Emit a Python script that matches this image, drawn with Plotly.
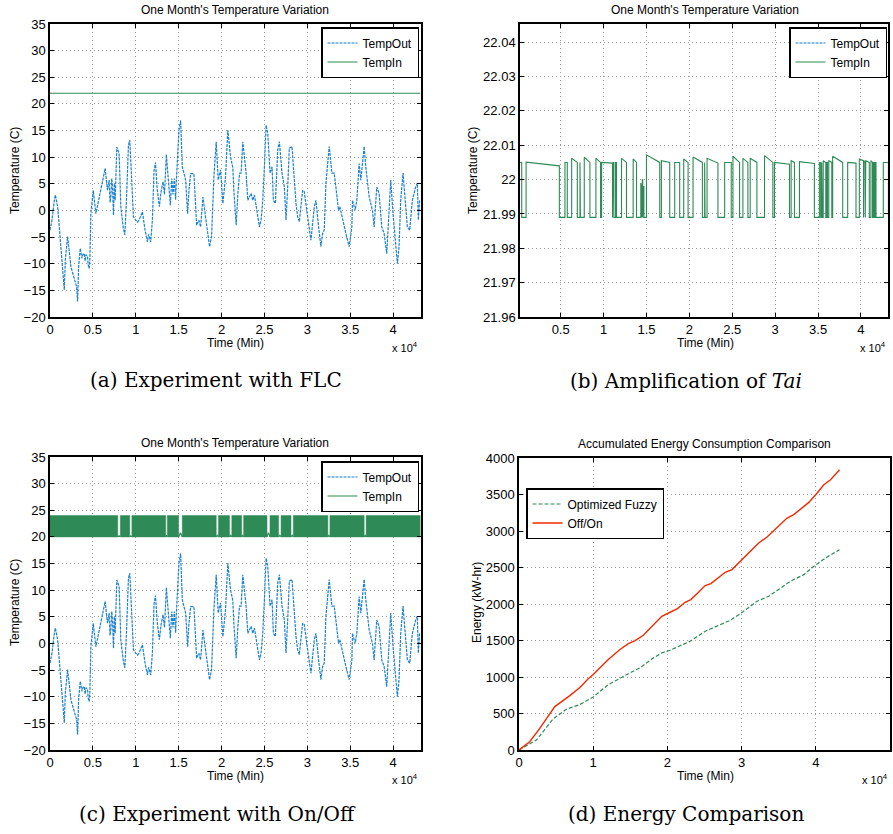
import plotly.graph_objects as go

# ---------------- data ----------------
# outdoor temperature (minutes, deg C)
out_t = [0, 233, 504, 620, 891, 1163, 1395, 1667, 1783, 2054, 2442, 2830, 3101, 3217, 3333, 3527,
         3721, 3850, 3992, 4100, 4200, 4380, 4450, 4574, 4650, 4767, 5039, 5349, 5659, 5930, 6050,
         6202, 6434, 6706, 6899, 7000, 7093, 7200, 7287, 7403, 7500, 7597, 7791, 8062, 8256, 8527,
         8721, 8915, 9147, 9302, 9496, 9729, 10000, 10200, 10388, 10775, 11085, 11357, 11500, 11744,
         11938, 12132, 12300, 12500, 12750, 12950, 13178, 13350, 13566, 13800, 14031, 14200, 14341,
         14500, 14650, 14729, 15039, 15233, 15426, 15814, 16047, 16202, 16395, 16783, 17093, 17364,
         17558, 17829, 18023, 18333, 18605, 18837, 19109, 19380, 19612, 19884, 20155, 20465, 20736,
         21046, 21318, 21434, 21705, 21900, 22100, 22287, 22481, 22868, 23062, 23450, 23643, 23837,
         24225, 24419, 24612, 24806, 25000, 25194, 25388, 25659, 25892, 26047, 26279, 26550, 26744,
         27054, 27326, 27519, 27713, 27907, 28217, 28489, 28682, 28876, 29070, 29457, 29651, 30039,
         30426, 30814, 31008, 31318, 31589, 31783, 31977, 32171, 32558, 32868, 33140, 33333, 33643,
         33798, 34109, 34496, 34884, 35194, 35271, 35581, 35775, 36047, 36240, 36628, 36822, 37209,
         37597, 37791, 38101, 38372, 38682, 38953, 39264, 39535, 39729, 40000, 40233, 40504, 40698,
         40891, 41163, 41395, 41667, 41938, 42248, 42636, 42829, 42946, 43101]
out_v = [-3.7, -1.8, 1.9, 2.9, 0.7, -4.9, -8.1, -14.9, -9.3, -4.9, -10.6, -13.0, -14.3, -17.1, -10.6, -7.1,
         -9.0, -8.2, -8.1, -9.5, -8.3, -8.7, -10.2, -10.9, -9.0, -0.6, 3.8, -0.6, 1.9, 3.8, 5.0,
         6.3, 7.9, 3.8, 5.7, 1.5, 2.6, 6.0, 4.4, -0.9, 5.0, 1.9, 11.9, 10.7, 0.7, -3.1,
         -4.6, 1.9, 12.3, 13.2, 5.7, -1.2, -1.8, -2.2, -1.8, -0.25, -3.7, -5.9, -4.5, -5.9,
         -1.8, 7.5, 9.0, 4.0, 0.7, 3.5, 5.4, 3.0, 10.5, 6.0, 1.0, 6.0, 3.0,
         6.0, 2.0, 5.5, 15.1, 16.9, 8.2, 5.7, -0.6, 3.8, 6.9, 6.9, -2.75, -1.8,
         -3.1, 2.5, 0.1, -3.7, -6.8, -4.9, 6.3, 12.9, 5.7, 7.6, 1.3, 6.3, 15.1,
         10.1, 8.0, 3.8, -2.75, 3.0, 7.0, 7.0, 12.9, 7.0, 1.9, 3.2, 1.9, 2.9,
         -1.8, -3.1, -1.8, 1.9, 8.2, 16.0, 14.5, 7.0, 8.2, 1.9, 1.3, 11.3, 12.9,
         7.0, 4.4, -1.8, 4.4, 11.7, 12.0, 5.7, 1.3, -1.2, -2.1, 3.8, 3.5, -1.2,
         -5.6, 0.7, 1.9, -3.1, -6.8, -4.3, -3.7, 5.1, 12.0, 7.0, 7.0, 4.4, 0.0,
         0.7, -1.8, -4.3, -6.8, -3.1, 1.9, 0.0, 1.9, 8.8, 5.7, 12.0, 8.2, 2.6,
         0.0, -3.1, 4.4, 3.2, -3.1, -4.3, -8.1, 0.7, 5.7, -0.6, -5.6, -10.0, -6.8,
         1.9, 7.0, 1.9, -3.1, -3.7, 1.9, 4.4, 5.1, -1.8, 1.9]

# indoor temperature with the FLC (a)
flc_in_t = [0, 43200]
flc_in_v = [22.0, 22.0]

# indoor temperature, amplified (b): high phases (start, end, level after rise, level before fall)
tai_hi_start = [0, 970, 5500, 6280, 7250, 7750, 9110, 9770, 11120, 11400, 12090, 13450, 14340, 14420,
                14520, 14600, 15000, 16740, 18290, 19340, 20430, 21780, 22060, 24110, 25080, 26240,
                27090, 28760, 29920, 31860, 32830, 35150, 35420, 35600, 36000, 36250, 36700, 38450,
                39810, 40350, 40560, 41160, 41450, 41650, 42600]
tai_hi_end = [460, 4845, 5770, 6940, 7300, 8410, 9650, 11040, 11200, 11510, 12670, 13840, 14380, 14460,
              14560, 14700, 16550, 17710, 18870, 19850, 21520, 21830, 23330, 24880, 25850, 26820,
              27870, 29730, 31670, 32250, 34570, 35300, 35500, 35900, 36100, 36600, 37870, 39420,
              40300, 40500, 40970, 41350, 41550, 41750, 43200]
tai_hi_peak = [22.005, 22.0051, 22.005, 22.0062, 22.005, 22.0065, 22.0062, 22.005, 22.005, 22.005,
               22.0062, 22.006, 21.999, 21.998, 22.0, 21.998, 22.0072, 22.0055, 22.005, 22.006,
               22.0066, 22.005, 22.0062, 22.005, 22.0068, 22.0062, 22.0062, 22.007, 22.005, 22.0055,
               22.0052, 22.005, 22.005, 22.0055, 22.005, 22.0055, 22.0068, 22.005, 22.006, 22.0055,
               22.0055, 22.0055, 22.005, 22.005, 22.005]
tai_hi_last = [22.005, 22.004, 22.005, 22.005, 22.005, 22.005, 22.005, 22.0048, 22.005, 22.005,
               22.005, 22.005, 21.999, 21.998, 22.0, 21.998, 22.005, 22.005, 22.005, 22.005,
               22.005, 22.005, 22.0048, 22.005, 22.005, 22.005, 22.005, 22.005, 22.0045, 22.005,
               22.0047, 22.005, 22.005, 22.005, 22.005, 22.005, 22.005, 22.0048, 22.0055, 22.005,
               22.005, 22.005, 22.005, 22.005, 22.005]
tai_low = 21.989

# indoor temperature with On/Off (c): band limits and the pauses in switching
onoff_low, onoff_high = 20, 24
onoff_gap_start = [7900, 9300, 13490, 15000, 19380, 20930, 22350, 25300, 26650, 28100, 32400, 36630]
onoff_gap_end = [8200, 9550, 13680, 15420, 19650, 21200, 22580, 25650, 26940, 28370, 32640, 36860]
onoff_gap_level = [20.2, 20.2, 20.3, 20.8, 20.3, 20.3, 20.3, 20.8, 20.3, 20.3, 20.3, 20.3]
month_end = 43200

# accumulated energy (d)
fuzzy_t = [0, 2347, 4595, 6401, 8203, 10000, 12032, 13608, 14960, 16311, 18113, 19239, 20365, 21356,
           23068, 25095, 26671, 28473, 30275, 32077, 33653, 35230, 36581, 38383, 39734, 41311, 43203]
fuzzy_e = [0, 136, 425, 560, 623, 726, 895, 988, 1057, 1125, 1262, 1330, 1366, 1412,
           1490, 1627, 1695, 1777, 1900, 2037, 2105, 2219, 2311, 2402, 2516, 2630, 2744]
onoff_t = [0, 1446, 2797, 4824, 6851, 8203, 9329, 10005, 12032, 13608, 14734, 15635, 16761, 18113,
           19239, 20365, 21356, 22392, 23158, 24194, 25095, 25860, 26896, 27797, 28698, 30050, 31176,
           32302, 33428, 34329, 35230, 36131, 37032, 38158, 39059, 40185, 41086, 41987, 43203]
onoff_e = [0, 113, 296, 595, 745, 855, 975, 1034, 1240, 1376, 1458, 1499, 1572, 1709,
           1832, 1887, 1937, 2024, 2061, 2161, 2252, 2279, 2357, 2435, 2471, 2608, 2736,
           2836, 2918, 3009, 3096, 3178, 3224, 3315, 3392, 3520, 3634, 3702, 3839]

# ticks
time_tick_vals = [0, 5000, 10000, 15000, 20000, 25000, 30000, 35000, 40000]
time_tick_text = ["0", "0.5", "1", "1.5", "2", "2.5", "3", "3.5", "4"]
temp_tick_vals = [-20, -15, -10, -5, 0, 5, 10, 15, 20, 25, 30, 35]
tai_tick_vals = [21.96, 21.97, 21.98, 21.99, 22.0, 22.01, 22.02, 22.03, 22.04]
tai_tick_text = ["21.96", "21.97", "21.98", "21.99", "22", "22.01", "22.02", "22.03", "22.04"]
energy_time_vals = [0, 10000, 20000, 30000, 40000, 50000]
energy_time_text = ["0", "1", "2", "3", "4", "5"]
energy_tick_vals = [0, 500, 1000, 1500, 2000, 2500, 3000, 3500, 4000]

# ---------------- figure ----------------
W, H = 893, 834
def fx(p):
    return p / W
def fy(p):
    return 1 - p / H

GREEN = "#2e8b57"
BLUE = "#1a80d2"
RED = "#f02a00"
FONT = "Liberation Sans"
SERIF = "DejaVu Serif"

fig = go.Figure()
out_line = dict(color=BLUE, width=1.2, dash="3px,1px")

# (a)
fig.add_trace(go.Scatter(x=out_t, y=out_v, mode="lines", name="TempOut", line=out_line,
                         xaxis="x", yaxis="y", legend="legend"))
fig.add_trace(go.Scatter(x=flc_in_t, y=flc_in_v, mode="lines", name="TempIn",
                         line=dict(color=GREEN, width=1.2), xaxis="x", yaxis="y", legend="legend"))

# (b)
tai_x, tai_y = [], []
for s, e, p, q in zip(tai_hi_start, tai_hi_end, tai_hi_peak, tai_hi_last):
    tai_x += [s, s, e, e]
    tai_y += [tai_low, p, q, tai_low]
fig.add_trace(go.Scatter(x=out_t, y=out_v, mode="lines", name="TempOut", line=out_line,
                         xaxis="x2", yaxis="y2", legend="legend2"))
fig.add_trace(go.Scatter(x=tai_x, y=tai_y, mode="lines", name="TempIn",
                         line=dict(color=GREEN, width=1.1), xaxis="x2", yaxis="y2", legend="legend2"))

# (c)
fig.add_trace(go.Scatter(x=out_t, y=out_v, mode="lines", name="TempOut", line=out_line,
                         xaxis="x3", yaxis="y3", legend="legend3"))
band_start = [0] + onoff_gap_end
band_end = onoff_gap_start + [month_end]
bx, by = [], []
for s, e in zip(band_start, band_end):
    bx += [s, e, e, s, s, None]
    by += [onoff_low, onoff_low, onoff_high, onoff_high, onoff_low, None]
fig.add_trace(go.Scatter(x=bx, y=by, mode="lines", fill="toself", fillcolor=GREEN,
                         line=dict(color=GREEN, width=0.5), showlegend=False,
                         xaxis="x3", yaxis="y3", hoverinfo="skip"))
gx, gy = [], []
for s, e, lv in zip(onoff_gap_start, onoff_gap_end, onoff_gap_level):
    gx += [s, (s + e) / 2, e, None]
    gy += [onoff_low, lv, onoff_low, None]
fig.add_trace(go.Scatter(x=gx, y=gy, mode="lines", name="TempIn",
                         line=dict(color=GREEN, width=1.2), xaxis="x3", yaxis="y3", legend="legend3"))

# (d)
fig.add_trace(go.Scatter(x=fuzzy_t, y=fuzzy_e, mode="lines", name="Optimized Fuzzy",
                         line=dict(color=GREEN, width=1.2, dash="4px,2px"),
                         xaxis="x4", yaxis="y4", legend="legend4"))
fig.add_trace(go.Scatter(x=onoff_t, y=onoff_e, mode="lines", name="Off/On",
                         line=dict(color=RED, width=1.4), xaxis="x4", yaxis="y4", legend="legend4"))

# axes
def axis(domain, rng, tv, tt=None):
    d = dict(domain=domain, range=rng, tickvals=tv, showline=True, linecolor="black", linewidth=1.5,
             mirror="ticks", ticks="inside", ticklen=4, tickcolor="black", tickwidth=1,
             showgrid=True, gridcolor="#9a9a9a", griddash="1px,3px", gridwidth=1, zeroline=False,
             tickfont=dict(family=FONT, size=13, color="black"), automargin=False, fixedrange=True)
    if tt is not None:
        d["ticktext"] = tt
    return d

xa = [fx(50), fx(420.5)]
xb = [fx(520), fx(888)]
xd = [fx(519), fx(890)]
ytop = [fy(317), fy(24)]
ybot = [fy(750), fy(457)]
ybotd = [fy(750), fy(458)]

fig.update_layout(
    xaxis=dict(axis(xa, [0, 43200], time_tick_vals, time_tick_text), anchor="y"),
    yaxis=dict(axis(ytop, [-20, 35], temp_tick_vals), anchor="x"),
    xaxis2=dict(axis(xb, [260, 43150], time_tick_vals, time_tick_text), anchor="y2"),
    yaxis2=dict(axis(ytop, [21.96, 22.0453], tai_tick_vals, tai_tick_text), anchor="x2"),
    xaxis3=dict(axis(xa, [0, 43200], time_tick_vals, time_tick_text), anchor="y3"),
    yaxis3=dict(axis(ybot, [-20, 35], temp_tick_vals), anchor="x3"),
    xaxis4=dict(axis(xd, [0, 50000], energy_time_vals, energy_time_text), anchor="y4"),
    yaxis4=dict(axis(ybotd, [0, 4000], energy_tick_vals), anchor="x4"),
)

leg = dict(bgcolor="white", bordercolor="black", borderwidth=1.5,
           font=dict(family=FONT, size=12, color="black"), tracegroupgap=0, itemwidth=30,
           xref="paper", yref="paper")
fig.update_layout(
    legend=dict(leg, x=fx(419), y=fy(27), xanchor="right", yanchor="top"),
    legend2=dict(leg, x=fx(887), y=fy(27), xanchor="right", yanchor="top"),
    legend3=dict(leg, x=fx(419), y=fy(461), xanchor="right", yanchor="top"),
    legend4=dict(leg, x=fx(526), y=fy(488), xanchor="left", yanchor="top"),
)

ann = []
def text(t, x, y, size=12, family=FONT, angle=0, xanchor="center"):
    ann.append(dict(text=t, x=fx(x), y=fy(y), xref="paper", yref="paper", showarrow=False,
                    xanchor=xanchor, yanchor="middle", textangle=angle,
                    font=dict(family=family, size=size, color="black")))

title = "One Month's Temperature Variation"
text(title, 235, 10)
text(title, 705, 10)
text(title, 235, 443)
text("Accumulated Energy Consumption Comparison", 704, 444)
text("Time (Min)", 235, 343)
text("Time (Min)", 705, 343)
text("Time (Min)", 235, 776)
text("Time (Min)", 705, 776)
for x, y in [(405, 347), (873, 347), (405, 779), (875, 779)]:
    text("x 10<sup>4</sup>", x, y, size=11)
text("Temperature (C)", 15, 171, angle=-90)
text("Temperature (C)", 473, 171, angle=-90)
text("Temperature (C)", 15, 603, angle=-90)
text("Energy (kW-hr)", 477, 603, angle=-90)
text("(a) Experiment with FLC", 216, 380, size=20, family=SERIF)
text("(b) Amplification of <i>Tai</i>", 686, 381, size=20, family=SERIF)
text("(c) Experiment with On/Off", 217, 814, size=20, family=SERIF)
text("(d) Energy Comparison", 686, 814, size=20, family=SERIF)

fig.update_layout(
    annotations=ann, width=W, height=H, margin=dict(l=0, r=0, t=0, b=0),
    template="none", plot_bgcolor="white", paper_bgcolor="white", showlegend=True,
    font=dict(family=FONT, color="black"),
)

fig.write_html("out.html", config={"displayModeBar": False},
               post_script="document.body.style.margin='0';document.body.style.overflow='hidden';")
